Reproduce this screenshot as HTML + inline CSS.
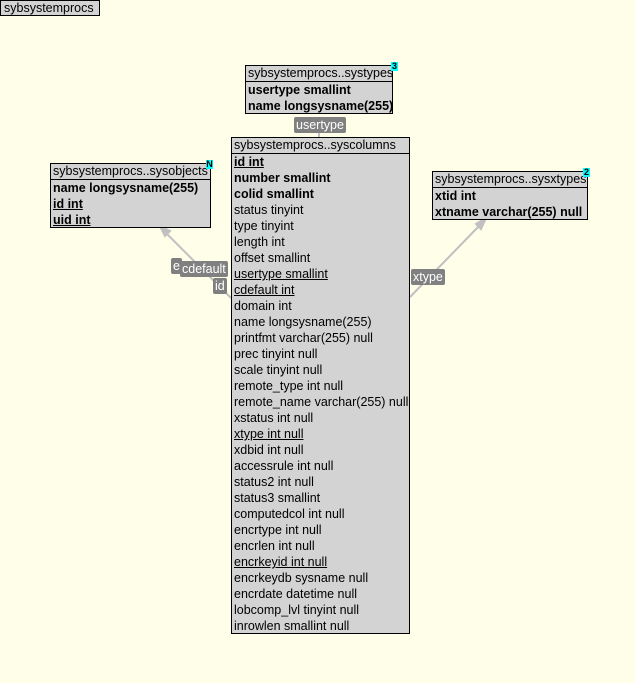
<!DOCTYPE html>
<html><head><meta charset="utf-8"><style>
body{margin:0;width:635px;height:683px;background:#fefee9;position:relative;overflow:hidden;font-family:"Liberation Sans",Arial,sans-serif;font-size:12.5px;color:#000}
.t{position:absolute;background:#d3d3d3;border:1px solid #000;box-sizing:border-box}
.h{height:16px;line-height:15px;padding-left:2px;border-bottom:1px solid #000;box-sizing:border-box;white-space:nowrap}
.r{height:16px;line-height:16px;padding-left:2px;white-space:nowrap}
.b{font-weight:bold}.u{text-decoration:underline}
.lbl{position:absolute;background:#808080;color:#fff;height:16px;line-height:16px;padding:0 2px;white-space:nowrap;border-radius:2px}
.bd{position:absolute;background:#00ffff;font-size:9px;line-height:9px;width:7px;height:9px;text-align:center;font-weight:bold}
</style></head><body>
<svg width="635" height="683" style="position:absolute;left:0;top:0">
<g stroke="#c0c0c0" stroke-width="2" fill="#c0c0c0">
<line x1="231" y1="298" x2="164" y2="231"/><polygon points="160,226 170,231 165,236"/>
<line x1="410" y1="297" x2="482" y2="223"/><polygon points="486,218 481,229 476,224"/>
<line x1="319" y1="137" x2="319" y2="117"/>
</g></svg>
<div class="t" style="left:0;top:0;width:100px;height:16px"><div class="r" style="line-height:14px;padding-left:3px">sybsystemprocs</div></div>

<div class="t" style="left:245px;top:65px;width:148px;height:49px">
<div class="h">sybsystemprocs..systypes</div>
<div class="r b">usertype smallint</div><div class="r b">name longsysname(255)</div></div>
<div class="bd" style="left:391px;top:62px">3</div>

<div class="t" style="left:50px;top:163px;width:161px;height:65px">
<div class="h">sybsystemprocs..sysobjects</div>
<div class="r b">name longsysname(255)</div><div class="r b u">id int</div><div class="r b u">uid int</div></div>
<div class="bd" style="left:206px;top:160px">N</div>

<div class="t" style="left:432px;top:171px;width:156px;height:49px">
<div class="h">sybsystemprocs..sysxtypes</div>
<div class="r b">xtid int</div><div class="r b">xtname varchar(255) null</div></div>
<div class="bd" style="left:583px;top:168px">2</div>

<div class="t" style="left:231px;top:137px;width:179px;height:497px">
<div class="h">sybsystemprocs..syscolumns</div>
<div class="r b u">id int</div><div class="r b">number smallint</div><div class="r b">colid smallint</div>
<div class="r">status tinyint</div><div class="r">type tinyint</div><div class="r">length int</div><div class="r">offset smallint</div>
<div class="r u">usertype smallint</div><div class="r u">cdefault int</div><div class="r">domain int</div>
<div class="r">name longsysname(255)</div><div class="r">printfmt varchar(255) null</div><div class="r">prec tinyint null</div>
<div class="r">scale tinyint null</div><div class="r">remote_type int null</div><div class="r">remote_name varchar(255) null</div>
<div class="r">xstatus int null</div><div class="r u">xtype int null</div><div class="r">xdbid int null</div>
<div class="r">accessrule int null</div><div class="r">status2 int null</div><div class="r">status3 smallint</div>
<div class="r">computedcol int null</div><div class="r">encrtype int null</div><div class="r">encrlen int null</div>
<div class="r u">encrkeyid int null</div><div class="r">encrkeydb sysname null</div><div class="r">encrdate datetime null</div>
<div class="r">lobcomp_lvl tinyint null</div><div class="r">inrowlen smallint null</div></div>

<div class="lbl" style="left:294px;top:117px">usertype</div>
<div class="lbl" style="left:171px;top:258px">e</div>
<div class="lbl" style="left:180px;top:261px">cdefault</div>
<div class="lbl" style="left:213px;top:278px">id</div>
<div class="lbl" style="left:411px;top:269px">xtype</div>
</body></html>
